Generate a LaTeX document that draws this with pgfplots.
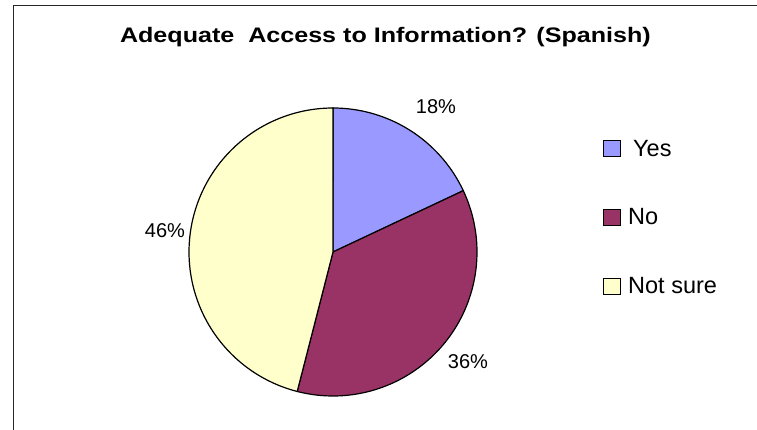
\documentclass[border=0pt]{standalone}
\usepackage{pgfplots}
\pgfplotsset{compat=1.18}
\usepackage{fontspec}
\setmainfont{Liberation Sans}
\definecolor{cyes}{HTML}{9999FF}
\definecolor{cno}{HTML}{993366}
\definecolor{cns}{HTML}{FFFFCC}
\begin{document}
\begin{tikzpicture}
\path[use as bounding box] (0,0) rectangle (757pt,430pt);
\draw[line width=1.3pt, black!85] (13.5pt,0) -- (13.5pt,424.5pt) -- (757pt,424.5pt);
\begin{axis}[
  at={(333pt,178pt)}, anchor=center,
  scale only axis, width=288pt, height=288pt,
  xmin=-1, xmax=1, ymin=-1, ymax=1,
  hide axis, clip=false,
  title={Adequate\ \ Access to Information? (Spanish)},
  title style={at={(axis description cs:0.682,1.2326)}, anchor=base, yshift=-7pt, xscale=1.195, font=\fontsize{21}{25}\selectfont\bfseries, inner sep=0pt},
  legend style={draw=none, fill=none, at={(axis description cs:1.4375,0.89)}, anchor=north west,
    font=\fontsize{23.5}{27}\selectfont, row sep=51pt, inner sep=0pt, nodes={inner sep=0pt},
    /tikz/every odd column/.append style={column sep=7pt}},
  legend cell align=left,
  legend image code/.code={\draw[#1, draw=black, line width=1pt] (0pt,-8pt) rectangle (17pt,8pt);},
]
\addplot[fill=cyes, draw=black, line width=1.2pt, domain=90:90-3.6*18, samples=60] ({cos(x)},{sin(x)}) -- (axis cs:0,0) -- cycle;
\addlegendentry{\hspace{5pt}Yes}
\addplot[fill=cno, draw=black, line width=1.2pt, domain=90-3.6*18:90-3.6*54, samples=80] ({cos(x)},{sin(x)}) -- (axis cs:0,0) -- cycle;
\addlegendentry{No}
\addplot[fill=cns, draw=black, line width=1.2pt, domain=90-3.6*54:90-3.6*100, samples=100] ({cos(x)},{sin(x)}) -- (axis cs:0,0) -- cycle;
\addlegendentry{Not sure}
\node[font=\fontsize{20}{24}\selectfont] at (axis cs:0.715,1.007) {18\%};
\node[font=\fontsize{20}{24}\selectfont] at (axis cs:0.9375,-0.764) {36\%};
\node[font=\fontsize{20}{24}\selectfont] at (axis cs:-1.1667,0.146) {46\%};
\end{axis}
\end{tikzpicture}
\end{document}
